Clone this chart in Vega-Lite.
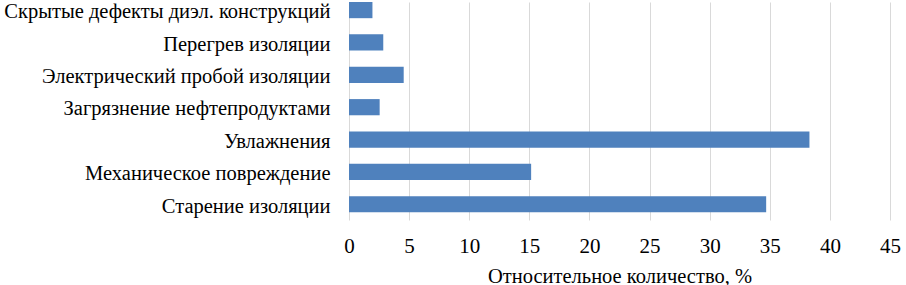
{
  "$schema": "https://vega.github.io/schema/vega-lite/v6.json",
  "autosize": "none",
  "width": 541,
  "height": 218,
  "padding": {"left": 349, "top": 2, "right": 16, "bottom": 65},
  "background": "white",
  "data": {
    "values": [
      {"cause": "Скрытые дефекты диэл. конструкций", "value": 1.95},
      {"cause": "Перегрев изоляции", "value": 2.85},
      {"cause": "Электрический пробой изоляции", "value": 4.55},
      {"cause": "Загрязнение нефтепродуктами", "value": 2.55},
      {"cause": "Увлажнения", "value": 38.3},
      {"cause": "Механическое повреждение", "value": 15.15},
      {"cause": "Старение изоляции", "value": 34.7}
    ]
  },
  "mark": {"type": "bar", "color": "#4F81BD"},
  "encoding": {
    "y": {
      "field": "cause",
      "type": "nominal",
      "sort": null,
      "scale": {"paddingInner": 0.5, "paddingOuter": 0.118, "align": 0},
      "axis": {
        "title": null,
        "domain": false,
        "ticks": false,
        "grid": false,
        "labelPadding": 19,
        "labelOffset": 2.3,
        "labelFont": "Liberation Serif",
        "labelFontSize": 20.5,
        "labelColor": "#000000",
        "labelLimit": 400
      }
    },
    "x": {
      "field": "value",
      "type": "quantitative",
      "scale": {"domain": [0, 45], "nice": false},
      "axis": {
        "values": [0, 5, 10, 15, 20, 25, 30, 35, 40, 45],
        "title": "Относительное количество, %",
        "titleFont": "Liberation Serif",
        "titleFontSize": 20.5,
        "titleFontWeight": "normal",
        "titleColor": "#000000",
        "titlePadding": 10,
        "domain": false,
        "ticks": false,
        "grid": true,
        "gridColor": "#d9d9d9",
        "gridWidth": 1,
        "labelPadding": 15,
        "labelFont": "Liberation Serif",
        "labelFontSize": 21,
        "labelColor": "#000000",
        "labelFlush": false
      }
    }
  },
  "config": {"view": {"stroke": null}, "font": "Liberation Serif"}
}
